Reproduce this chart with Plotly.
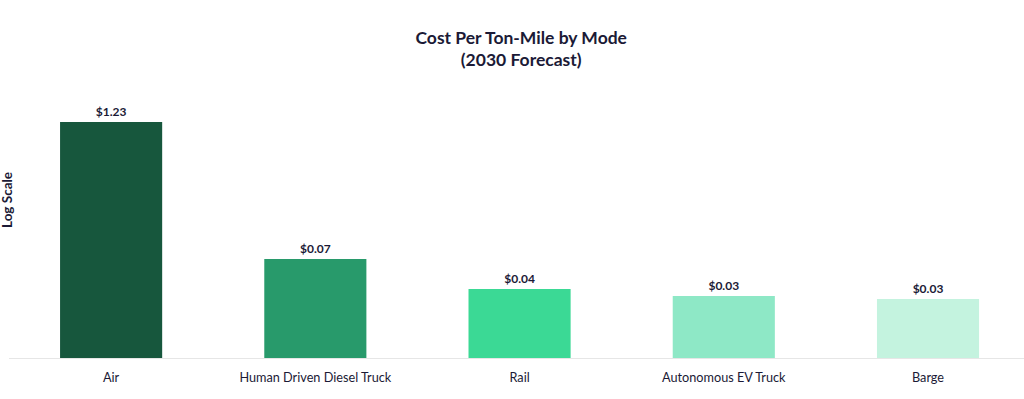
import plotly.graph_objects as go

modes = ["Air", "Human Driven Diesel Truck", "Rail", "Autonomous EV Truck", "Barge"]
cost_per_ton_mile = [1.23, 0.07, 0.0373, 0.0322, 0.0302]
value_labels = ["$1.23", "$0.07", "$0.04", "$0.03", "$0.03"]
bar_colors = ["#17573d", "#289a6b", "#3bd995", "#8ee8c6", "#c4f3df"]

W, H = 1024, 399
m_l, m_r, m_t, m_b = 9, 0, 52, 41
plot_h = H - m_t - m_b
px_per_decade = 110.0
y_lo = -2.056
y_hi = y_lo + plot_h / px_per_decade

TEXT = "#1b1a36"
FONT = "Lato, 'Open Sans', sans-serif"

fig = go.Figure(
    go.Bar(
        x=modes,
        y=cost_per_ton_mile,
        marker=dict(color=bar_colors, line=dict(width=0)),
        width=0.5,
        text=value_labels,
        textposition="outside",
        textfont=dict(family=FONT, size=12, color=TEXT, weight="bold"),
        cliponaxis=False,
        hoverinfo="skip",
    )
)

fig.update_layout(
    width=W,
    height=H,
    margin=dict(l=m_l, r=m_r, t=m_t, b=m_b, pad=0),
    paper_bgcolor="white",
    plot_bgcolor="white",
    showlegend=False,
    title=dict(
        text="<b>Cost Per Ton-Mile by Mode<br>(2030 Forecast)</b>",
        x=0.509,
        xanchor="center",
        y=1 - 43.5 / H,
        yanchor="middle",
        yref="container",
        font=dict(family=FONT, size=17.5, color=TEXT),
    ),
    xaxis=dict(
        range=[-0.5, 4.47],
        showgrid=False,
        zeroline=False,
        showline=True,
        linecolor="#e6e6e6",
        linewidth=1,
        ticks="",
        ticklabelstandoff=8,
        tickfont=dict(family=FONT, size=12.7, color=TEXT),
        fixedrange=True,
    ),
    yaxis=dict(
        type="log",
        range=[y_lo, y_hi],
        showgrid=False,
        zeroline=False,
        showline=False,
        showticklabels=False,
        ticks="",
        fixedrange=True,
    ),
    annotations=[
        dict(
            text="<b>Log Scale</b>",
            textangle=-90,
            xref="paper",
            yref="paper",
            x=-m_l / (W - m_l - m_r) + 7 / (W - m_l - m_r),
            y=(H - m_b - 200) / plot_h,
            xanchor="center",
            yanchor="middle",
            showarrow=False,
            font=dict(family=FONT, size=13.5, color=TEXT),
        )
    ],
)

fig.write_html(
    "out.html",
    config={"displayModeBar": False},
    post_script="document.body.style.margin='0';document.body.style.padding='0';",
)
